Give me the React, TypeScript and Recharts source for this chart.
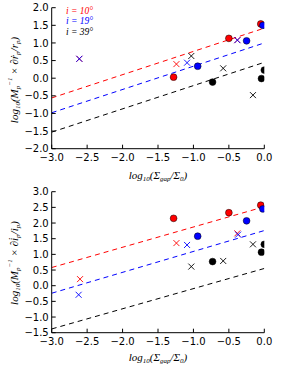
import React from 'react';
import { ComposedChart, Line, Scatter, XAxis, YAxis } from 'recharts';

// x axis, shared by both panels
const xTicks = [-3, -2.5, -2, -1.5, -1, -0.5, 0];
const rTicks = [-2, -1.5, -1, -0.5, 0, 0.5, 1, 1.5, 2];
const iTicks = [-1.5, -1, -0.5, 0, 0.5, 1, 1.5, 2, 2.5, 3];

// dashed fits (end points at x=-3 and x=0)
const fitX = [-3, 0];
const rFitRed = [-0.56, 1.42];
const rFitBlue = [-0.98, 1.0];
const rFitBlack = [-1.53, 0.45];
const iFitRed = [0.58, 2.52];
const iFitBlue = [-0.24, 1.76];
const iFitBlack = [-1.38, 0.55];

// top panel: r_p
const rRedDotX = [-1.28, -0.5, -0.05];
const rRedDotY = [0.03, 1.13, 1.54];
const rRedCrossX = [-2.61, -1.24, -0.38];
const rRedCrossY = [0.55, 0.4, 1.08];
const rBlueDotX = [-0.94, -0.25, -0.02];
const rBlueDotY = [0.34, 1.06, 1.5];
const rBlueCrossX = [-2.61, -1.09, -0.38];
const rBlueCrossY = [0.55, 0.44, 1.08];
const rBlackDotX = [-0.73, -0.04, 0.0];
const rBlackDotY = [-0.11, -0.01, 0.23];
const rBlackCrossX = [-1.03, -0.58, -0.16];
const rBlackCrossY = [0.63, 0.28, -0.48];

// bottom panel: i_p
const iRedDotX = [-1.28, -0.5, -0.05];
const iRedDotY = [2.15, 2.33, 2.57];
const iRedCrossX = [-2.6, -1.24, -0.38];
const iRedCrossY = [0.21, 1.36, 1.67];
const iBlueDotX = [-0.94, -0.25, -0.02];
const iBlueDotY = [1.58, 2.07, 2.45];
const iBlueCrossX = [-2.62, -1.09, -0.37];
const iBlueCrossY = [-0.29, 1.3, 1.63];
const iBlackDotX = [-0.73, -0.04, 0.0];
const iBlackDotY = [0.77, 1.07, 1.32];
const iBlackCrossX = [-1.03, -0.58, -0.16];
const iBlackCrossY = [0.61, 0.79, 1.32];

const RED = '#ff0000';
const BLUE = '#0000ff';
const BLACK = '#000000';

const pts = (xs: number[], ys: number[]) => xs.map((x, i) => ({ x, y: ys[i] }));

const fmt = (v: number) => (v < 0 ? '\u2212' : '') + Math.abs(v).toFixed(1);

const tickFont = { fontFamily: 'DejaVu Sans', fontSize: 10, fill: '#000' };

const Dot = (color: string) => (p: any) => (
  <circle cx={p.cx} cy={p.cy} r={3.4} fill={color} stroke="#000" strokeWidth={0.5} />
);

const Cross = (color: string) => (p: any) => {
  const s = 3;
  return (
    <g stroke={color} strokeWidth={0.9}>
      <line x1={p.cx - s} y1={p.cy - s} x2={p.cx + s} y2={p.cy + s} />
      <line x1={p.cx - s} y1={p.cy + s} x2={p.cx + s} y2={p.cy - s} />
    </g>
  );
};

type Series = { color: string; fit: number[]; dotX: number[]; dotY: number[]; crossX: number[]; crossY: number[] };

const Panel = ({ yTicks, series, top }: { yTicks: number[]; series: Series[]; top: number }) => {
  const yMin = yTicks[0];
  const yMax = yTicks[yTicks.length - 1];
  return (
    <div style={{ position: 'absolute', left: 0, top }}>
      <ComposedChart width={299} height={184} margin={{ top: 7.7, right: 34.7, bottom: 0, left: 0 }}>
        <XAxis
          dataKey="x"
          type="number"
          domain={[-3, 0]}
          ticks={xTicks}
          allowDataOverflow
          tickFormatter={fmt}
          tick={tickFont}
          tickSize={-4}
          tickMargin={9.5}
          height={184 - 7.7 - 141}
          stroke="#000"
          interval={0}
        />
        <XAxis xAxisId="top" orientation="top" type="number" domain={[-3, 0]} ticks={xTicks} allowDataOverflow tick={false} tickSize={-4} height={0} stroke="#000" />
        <YAxis
          dataKey="y"
          type="number"
          domain={[yMin, yMax]}
          ticks={yTicks}
          allowDataOverflow
          tickFormatter={fmt}
          tick={tickFont}
          tickSize={-4}
          tickMargin={7}
          width={51.7}
          stroke="#000"
          interval={0}
        />
        <YAxis yAxisId="right" orientation="right" type="number" domain={[yMin, yMax]} ticks={yTicks} allowDataOverflow tick={false} tickSize={-4} width={0} stroke="#000" />
        {series.map((s, k) => (
          <Line
            key={'f' + k}
            data={pts(fitX, s.fit)}
            dataKey="y"
            stroke={s.color}
            strokeWidth={1}
            strokeDasharray="5 4"
            dot={false}
            isAnimationActive={false}
          />
        ))}
        {series.map((s, k) => (
          <Scatter key={'c' + k} data={pts(s.crossX, s.crossY)} dataKey="y" shape={Cross(s.color)} isAnimationActive={false} />
        ))}
        {series.map((s, k) => (
          <Scatter key={'d' + k} data={pts(s.dotX, s.dotY)} dataKey="y" shape={Dot(s.color)} isAnimationActive={false} />
        ))}
      </ComposedChart>
    </div>
  );
};

const sub = { baselineShift: 'sub', fontSize: 7 } as React.CSSProperties;
const sup = { baselineShift: 'super', fontSize: 7 } as React.CSSProperties;
const titleFont = { fontFamily: 'Liberation Serif', fontStyle: 'italic', fontSize: 11 } as React.CSSProperties;
const legendFont = { fontFamily: 'Liberation Serif', fontStyle: 'italic', fontSize: 9.5 } as React.CSSProperties;

const YTitle = ({ cx, cy, v }: { cx: number; cy: number; v: string }) => (
  <text x={cx} y={cy} transform={`rotate(-90 ${cx} ${cy})`} textAnchor="middle" dominantBaseline="central" style={titleFont}>
    log<tspan style={sub}>10</tspan>
    <tspan>(M</tspan>
    <tspan style={sub}>p</tspan>
    <tspan style={sup}>{'\u22121'}</tspan>
    <tspan>{' \u00d7 \u2202' + v + '\u0307'}</tspan>
    <tspan style={sub}>p</tspan>
    <tspan>{'/' + v}</tspan>
    <tspan style={sub}>p</tspan>
    <tspan>)</tspan>
  </text>
);

const XTitle = ({ cx, cy }: { cx: number; cy: number }) => (
  <text x={cx} y={cy} textAnchor="middle" dominantBaseline="central" style={titleFont}>
    log<tspan style={sub}>10</tspan>
    <tspan>({'\u03a3'}</tspan>
    <tspan style={sub}>gap</tspan>
    <tspan>/{'\u03a3'}</tspan>
    <tspan style={sub}>0</tspan>
    <tspan>)</tspan>
  </text>
);

const legendItems = ['i = 10\u00b0', 'i = 19\u00b0', 'i = 39\u00b0'];
const legendColors = [RED, BLUE, BLACK];

export default function App() {
  const rSeries: Series[] = [
    { color: RED, fit: rFitRed, dotX: rRedDotX, dotY: rRedDotY, crossX: rRedCrossX, crossY: rRedCrossY },
    { color: BLUE, fit: rFitBlue, dotX: rBlueDotX, dotY: rBlueDotY, crossX: rBlueCrossX, crossY: rBlueCrossY },
    { color: BLACK, fit: rFitBlack, dotX: rBlackDotX, dotY: rBlackDotY, crossX: rBlackCrossX, crossY: rBlackCrossY },
  ];
  const iSeries: Series[] = [
    { color: RED, fit: iFitRed, dotX: iRedDotX, dotY: iRedDotY, crossX: iRedCrossX, crossY: iRedCrossY },
    { color: BLUE, fit: iFitBlue, dotX: iBlueDotX, dotY: iBlueDotY, crossX: iBlueCrossX, crossY: iBlueCrossY },
    { color: BLACK, fit: iFitBlack, dotX: iBlackDotX, dotY: iBlackDotY, crossX: iBlackCrossX, crossY: iBlackCrossY },
  ];
  return (
    <div style={{ position: 'absolute', left: 0, top: 0, width: 299, height: 369, background: '#fff', overflow: 'hidden' }}>
      <Panel yTicks={rTicks} series={rSeries} top={0} />
      <Panel yTicks={iTicks} series={iSeries} top={184} />
      <svg width={299} height={369} style={{ position: 'absolute', left: 0, top: 0, pointerEvents: 'none' }}>
        <YTitle cx={14} cy={80} v="r" />
        <YTitle cx={14} cy={263} v="i" />
        <XTitle cx={158} cy={175} />
        <XTitle cx={158} cy={356.5} />
        {legendItems.map((t, k) => (
          <text key={t} x={66} y={10.7 + k * 10.4} dominantBaseline="central" fill={legendColors[k]} style={legendFont}>
            {t}
          </text>
        ))}
      </svg>
    </div>
  );
}
